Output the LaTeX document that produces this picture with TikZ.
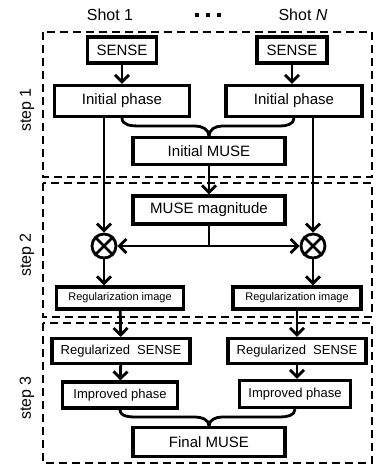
\documentclass[tikz,border=0pt]{standalone}
\usepackage{fontspec}
\setmainfont{Liberation Sans}
\usetikzlibrary{arrows.meta,calc}
\begin{document}
\begin{tikzpicture}[x=1pt,y=-1pt,
  box/.style={draw,line width=3.1pt,inner sep=0pt,font=\fontsize{15}{17}\selectfont},
  arr/.style={line width=2.8pt,-{Straight Barb[length=7pt,width=14pt]}},
  ln/.style={line width=2.8pt},
  frame/.style={line width=1.9pt,dash pattern=on 8pt off 5pt},
  mult/.style={draw,circle,line width=2.8pt,minimum size=24pt,inner sep=0pt},
  lbl/.style={font=\fontsize{16}{18}\selectfont},
  steplbl/.style={font=\fontsize{16}{18}\selectfont,rotate=90}]
\useasboundingbox (0,0) rectangle (382,468);
% frames
\draw[frame] (43,32) rectangle (372,177);
\draw[frame] (43,183) rectangle (372,317);
\draw[frame] (43,323) rectangle (372,463);
\node[steplbl] (s1) at (27,110) {step 1};
\node[steplbl] (s2) at (27,255) {step 2};
\node[steplbl] (s3) at (27,398) {step 3};
% header
\node[lbl] (shot1) at (110,15) {Shot 1};
\node[lbl] (shotN) at (303,15) {Shot \textit{N}};
\foreach \x in {197,208,219} \fill (\x-2,13) rectangle (\x+2,17);
% step 1
\node[box,minimum width=69pt,minimum height=26pt] (senseL) at (122,50) {SENSE};
\node[box,minimum width=70pt,minimum height=26pt] (senseR) at (292,50) {SENSE};
\node[box,minimum width=135pt,minimum height=31pt] (ipL) at (122,101) {Initial phase};
\node[box,minimum width=136pt,minimum height=31pt] (ipR) at (294,101) {Initial phase};
\node[box,minimum width=152pt,minimum height=27pt] (imuse) at (209,151) {Initial MUSE};
% step 2
\node[box,minimum width=152pt,minimum height=28pt] (mag) at (209,210) {MUSE magnitude};
\node[mult] (mulL) at (104,246) {};
\node[mult] (mulR) at (313,246) {};
\node[box,minimum width=127pt,minimum height=22pt,font=\fontsize{11}{13}\selectfont] (regL) at (120,298) {Regularization image};
\node[box,minimum width=128pt,minimum height=22pt,font=\fontsize{11}{13}\selectfont] (regR) at (297,298) {Regularization image};
% step 3
\node[box,minimum width=138pt,minimum height=25pt,font=\fontsize{13}{15}\selectfont] (rsL) at (121,351) {Regularized\ \ SENSE};
\node[box,minimum width=138pt,minimum height=25pt,font=\fontsize{13}{15}\selectfont] (rsR) at (297,351) {Regularized\ \ SENSE};
\node[box,minimum width=115pt,minimum height=26pt,font=\fontsize{13}{15}\selectfont] (impL) at (120,395) {Improved phase};
\node[box,minimum width=111pt,minimum height=27pt,font=\fontsize{13}{15}\selectfont] (impR) at (295,394) {Improved phase};
\node[box,minimum width=152pt,minimum height=29pt] (final) at (209,442) {Final MUSE};
% crosses
\foreach \m in {mulL,mulR}{
  \draw[ln] (\m.45) -- (\m.225);
  \draw[ln] (\m.135) -- (\m.315);
}
% connectors step 1
\draw[arr] (senseL) -- (ipL);
\draw[arr] (senseR.south) -- (senseR.south |- ipR.north);
\draw[ln] (ipL.south) to[out=-90,in=180] (138,126) -- (195,126) to[out=0,in=90] (imuse.north);
\draw[ln] (ipR.south) to[out=-90,in=0] (280,126) -- (222,126) to[out=180,in=90] (imuse.north);
\draw[arr] (ipL.south -| mulL) -- (mulL);
\draw[arr] (ipR.south -| mulR) -- (mulR);
\draw[arr] (imuse) -- (mag);
% step 2
\coordinate (j) at (mag.south |- mulL.center);
\draw[ln] (mag.south) -- (j);
\draw[arr] (j) -- (mulL);
\draw[arr] (j) -- (mulR);
\draw[arr] (mulL) -- (mulL |- regL.north);
\draw[arr] (mulR) -- (mulR |- regR.north);
% step 3
\draw[arr] (regL) -- (rsL);
\draw[arr] (regR) -- (rsR);
\draw[arr] (rsL) -- (impL);
\draw[arr] (rsR.south) -- (rsR.south |- impR.north);
\draw[ln] (impL.south) to[out=-90,in=180] (137,417) -- (195,417) to[out=0,in=90] (final.north);
\draw[ln] (impR.south) to[out=-90,in=0] (280,417) -- (222,417) to[out=180,in=90] (final.north);
\end{tikzpicture}
\end{document}
